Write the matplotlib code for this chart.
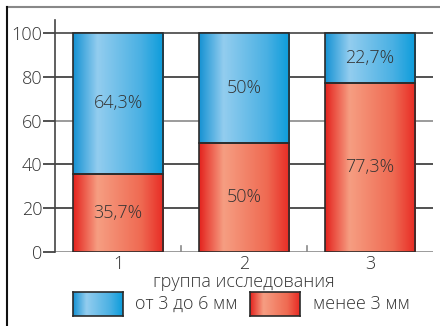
import numpy as np
import matplotlib
matplotlib.use("Agg")
import matplotlib.pyplot as plt
from matplotlib.colors import LinearSegmentedColormap
from matplotlib.lines import Line2D

plt.rcParams['font.family'] = ['Open Sans', 'DejaVu Sans']
plt.rcParams['font.weight'] = 300

groups = ["1", "2", "3"]
small = [35.7, 50.0, 77.3]      # менее 3 мм
medium = [64.3, 50.0, 22.7]     # от 3 до 6 мм
small_labels = ["35,7%", "50%", "77,3%"]
medium_labels = ["64,3%", "50%", "22,7%"]
yticks = [0, 20, 40, 60, 80, 100]
legend_labels = ["от 3 до 6 мм", "менее 3 мм"]
xlabel = "группа исследования"

blue_cmap = LinearSegmentedColormap.from_list(
    "blue_grad", [(0.0, "#1592d3"), (0.27, "#93cdef"), (0.75, "#49b0e3"), (1.0, "#0b9cdb")])
red_cmap = LinearSegmentedColormap.from_list(
    "red_grad", [(0.0, "#e4221d"), (0.27, "#f69e82"), (0.75, "#ef6a52"), (1.0, "#e82a24")])
grad = np.linspace(0, 1, 256).reshape(1, -1)

fig = plt.figure(figsize=(4.4, 3.26), dpi=100)
ax = fig.add_axes([55 / 440, 1 - 252 / 326, 378 / 440, 232 / 326])
x = np.arange(1, len(groups) + 1)
width = 0.72
txt = dict(fontsize=13, color="#333333", fontweight=300)


def gradient_bars(xs, heights, bottoms, cmap):
    bars = ax.bar(xs, heights, width, bottom=bottoms, facecolor="none",
                  edgecolor="#2b2b2b", linewidth=1.2, zorder=4)
    for b in bars:
        im = ax.imshow(grad, cmap=cmap, aspect="auto", interpolation="bilinear",
                       extent=(b.get_x(), b.get_x() + b.get_width(),
                               b.get_y(), b.get_y() + b.get_height()),
                       zorder=3)
        im.set_clip_path(b)
    return bars


gradient_bars(x, small, 0, red_cmap)
gradient_bars(x, medium, small, blue_cmap)

for xi, s, m, sl, ml in zip(x, small, medium, small_labels, medium_labels):
    ax.text(xi, s / 2, sl, ha="center", va="center", zorder=5, **txt)
    ax.text(xi, s + m / 2, ml, ha="center", va="center", zorder=5, **txt)

grid_colors = {0: "#8a8a8a", 20: "#333333", 40: "#333333", 60: "#8a8a8a", 80: "#333333", 100: "#444444"}
for yv in yticks:
    ax.axhline(yv, color=grid_colors[yv], linewidth=1.2, zorder=1)

ax.set_xlim(0.5, 3.5)
ax.set_ylim(0, 106)
ax.set_yticks(yticks)
ax.set_xticks(x)
ax.set_xticklabels(groups)
ax.tick_params(axis="y", length=9, width=1.2, color="#333333", labelsize=13, labelcolor="#333333", pad=0)
ax.tick_params(axis="x", length=0, labelsize=13, labelcolor="#333333", pad=2)
for xb in [1.5, 2.5]:
    ax.plot([xb, xb], [0, 2.6], color="#8a8a8a", linewidth=1.2, zorder=1)

for side in ["top", "right", "bottom"]:
    ax.spines[side].set_visible(False)
ax.spines["left"].set_color("#444444")
ax.spines["left"].set_linewidth(1.2)
ax.set_xlabel(xlabel, labelpad=0, **txt)


def swatch(x0, y0, cmap):
    w, h = 50 / 440, 24 / 326
    lax = fig.add_axes([x0 / 440, 1 - (y0 + 24) / 326, w, h])
    lax.imshow(grad, cmap=cmap, aspect="auto", interpolation="bilinear")
    lax.set_xticks([])
    lax.set_yticks([])
    for sp in lax.spines.values():
        sp.set_color("#2b2b2b")
        sp.set_linewidth(1.2)


swatch(73, 292, blue_cmap)
swatch(250, 292, red_cmap)
fig.text(135 / 440, 1 - 304 / 326, legend_labels[0], va="center", **txt)
fig.text(313 / 440, 1 - 304 / 326, legend_labels[1], va="center", **txt)

# outer frame lines
fig.add_artist(Line2D([7 / 440, 1], [1 - 7 / 326, 1 - 7 / 326], color="#888888", linewidth=1.5))
fig.add_artist(Line2D([7 / 440, 7 / 440], [0, 1 - 7 / 326], color="#111111", linewidth=1.5))

fig.savefig("out.png", dpi=100)
